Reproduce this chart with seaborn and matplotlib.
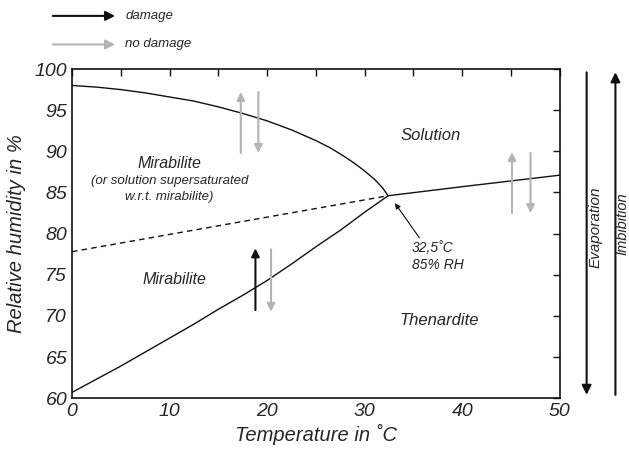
import numpy as np
import pandas as pd
import matplotlib.pyplot as plt
from matplotlib.ticker import MultipleLocator
from matplotlib.patches import FancyArrowPatch
import seaborn as sns

# phase boundaries (temperature in C, relative humidity in %)
mirabilite_T = [0, 2.5, 5, 7.5, 10, 12.5, 15, 17.5, 20, 22.5, 25, 26.5,
                28, 29, 30, 31, 31.8, 32.4]
mirabilite_RH = [98.0, 97.8, 97.5, 97.1, 96.6, 96.1, 95.4, 94.6, 93.7, 92.6,
                 91.3, 90.4, 89.3, 88.5, 87.6, 86.6, 85.6, 84.6]

thenardite_T = [32.4, 40, 45, 50]
thenardite_RH = [84.6, 85.7, 86.4, 87.1]

transition_T = [0, 2.5, 5, 7.5, 10, 12.5, 15, 17.5, 20, 22.5, 25, 27.5, 30, 32.4]
transition_RH = [60.7, 62.3, 63.9, 65.6, 67.3, 69.0, 70.8, 72.5, 74.3, 76.3,
                 78.4, 80.4, 82.6, 84.6]

metastable_T = [0, 32.4]
metastable_RH = [77.8, 84.6]

x_ticks = [0, 10, 20, 30, 40, 50]
y_ticks = [60, 65, 70, 75, 80, 85, 90, 95, 100]

grey = "#b4b4b4"
dark = "#111111"

sns.set_style("white")
plt.rcParams["font.family"] = ["Liberation Sans", "DejaVu Sans"]
plt.rcParams["font.style"] = "italic"

fig = plt.figure(figsize=(6.29, 4.54), dpi=100)
ax = fig.add_axes([0.1145, 0.123, 0.7755, 0.725])

def curve(T, RH, **kw):
    df = pd.DataFrame({"T": T, "RH": RH})
    sns.lineplot(data=df, x="T", y="RH", sort=False, estimator=None,
                 color=dark, lw=1.0, ax=ax, **kw)

curve(mirabilite_T, mirabilite_RH)
curve(thenardite_T, thenardite_RH)
curve(transition_T, transition_RH)
curve(metastable_T, metastable_RH, linestyle=(0, (4, 3)))

ax.set_xlim(0, 50)
ax.set_ylim(60, 100)
ax.set_xticks(x_ticks)
ax.set_yticks(y_ticks)
ax.xaxis.set_minor_locator(MultipleLocator(5))
ax.tick_params(which="both", direction="in", top=True, right=True,
               length=5, width=1.0, labelsize=14, color=dark)
for lab in ax.get_xticklabels() + ax.get_yticklabels():
    lab.set_fontstyle("italic")
for s in ax.spines.values():
    s.set_linewidth(1.2)
    s.set_color(dark)
ax.set_xlabel("Temperature in ˚C", fontsize=14.5, style="italic", labelpad=3)
ax.set_ylabel("Relative humidity in %", fontsize=14.5, style="italic", labelpad=6)

def arrow(x0, y0, x1, y1, color, lw=1.5, ms=12):
    ax.annotate("", xy=(x1, y1), xytext=(x0, y0),
                arrowprops=dict(arrowstyle="-|>", color=color, lw=lw,
                                mutation_scale=ms, shrinkA=0, shrinkB=0))

# grey / black process arrows
arrow(17.3, 89.8, 17.3, 97.2, grey)
arrow(19.1, 97.2, 19.1, 89.8, grey)
arrow(18.8, 70.7, 18.8, 78.2, dark)
arrow(20.4, 78.1, 20.4, 70.5, grey)
arrow(45.1, 82.5, 45.1, 89.9, grey)
arrow(47.0, 89.8, 47.0, 82.5, grey)

# triple point
ax.annotate("", xy=(33.1, 83.7), xytext=(35.6, 79.5),
            arrowprops=dict(arrowstyle="-|>", color=dark, lw=0.8,
                            mutation_scale=8, shrinkA=0, shrinkB=0))
ax.text(34.8, 78.3, "32,5˚C", fontsize=10, style="italic", va="center")
ax.text(34.8, 76.2, "85% RH", fontsize=10, style="italic", va="center")

# region labels
ax.text(10.0, 88.5, "Mirabilite", fontsize=11.5, ha="center", va="center", style="italic")
ax.text(10.0, 86.4, "(or solution supersaturated", fontsize=9.5, ha="center", va="center", style="italic")
ax.text(10.0, 84.5, "w.r.t. mirabilite)", fontsize=9.5, ha="center", va="center", style="italic")
ax.text(10.5, 74.4, "Mirabilite", fontsize=11.5, ha="center", va="center", style="italic")
ax.text(36.8, 91.9, "Solution", fontsize=12, ha="center", va="center", style="italic")
ax.text(37.6, 69.4, "Thenardite", fontsize=12, ha="center", va="center", style="italic")

# evaporation / imbibition outside the axes
for x0, y0, y1 in [(1.055, 0.99, 0.01), (1.114, 0.01, 0.99)]:
    ax.annotate("", xy=(x0, y1), xytext=(x0, y0), xycoords="axes fraction",
                textcoords="axes fraction", annotation_clip=False,
                arrowprops=dict(arrowstyle="-|>", color=dark, lw=1.5,
                                mutation_scale=14, shrinkA=0, shrinkB=0))
ax.text(1.073, 0.52, "Evaporation", transform=ax.transAxes, rotation=90,
        fontsize=11, ha="center", va="center", style="italic")
ax.text(1.128, 0.53, "Imbibition", transform=ax.transAxes, rotation=90,
        fontsize=10.5, ha="center", va="center", style="italic")

# legend at the top
for y, c, lab in [(0.965, dark, "damage"), (0.902, grey, "no damage")]:
    fig.add_artist(FancyArrowPatch(
        (0.084, y), (0.183, y), transform=fig.transFigure, arrowstyle="-|>",
        color=c, lw=1.5, mutation_scale=14, shrinkA=0, shrinkB=0))
    fig.text(0.199, y, lab, fontsize=9.5, va="center", style="italic")

fig.savefig("out.png", dpi=100)
